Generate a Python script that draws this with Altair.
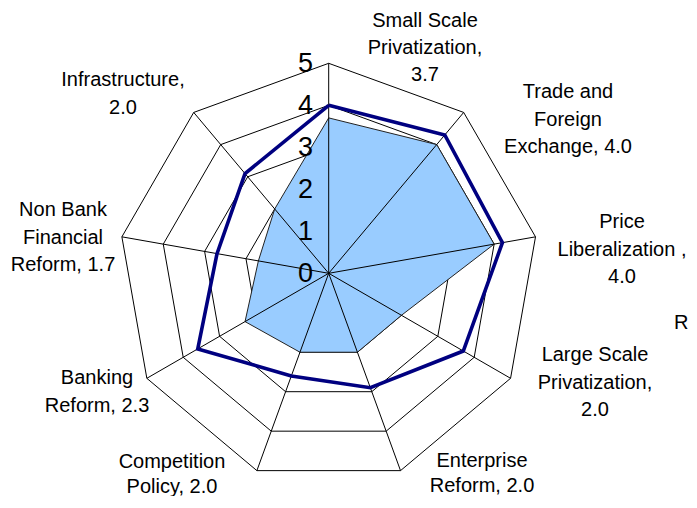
import math
import altair as alt
import pandas as pd

# ---------------- data ----------------
categories = [
    "Small Scale Privatization", "Trade and Foreign Exchange", "Price Liberalization",
    "Large Scale Privatization", "Enterprise Reform", "Competition Policy",
    "Banking Reform", "Non Bank Financial Reform", "Infrastructure",
]
country_values = [3.7, 4.0, 4.0, 2.0, 2.0, 2.0, 2.3, 1.7, 2.0]
comparison_values = [4.0, 4.3, 4.2, 3.7, 2.9, 2.6, 3.6, 2.7, 3.1]
grid_levels = [1, 2, 3, 4, 5]
tick_labels = ["0", "1", "2", "3", "4", "5"]
label_templates = [
    ["Small Scale", "Privatization,", "{v}"],
    ["Trade and", "Foreign", "Exchange, {v}"],
    ["Price", "Liberalization ,", "{v}"],
    ["Large Scale", "Privatization,", "{v}"],
    ["Enterprise", "Reform, {v}"],
    ["Competition", "Policy, {v}"],
    ["Banking", "Reform, {v}"],
    ["Non Bank", "Financial", "Reform, {v}"],
    ["Infrastructure,", "{v}"],
]

# ---------------- layout ----------------
W, H = 681, 488
U = 42.0            # pixels per score unit
CX, CY = 320.7, 265.3
XD = [-CX / U, (W - CX) / U]
YD = [-(H - CY) / U, CY / U]
FONT = "Liberation Sans"
# label block centres (page px) and line spacing
label_anchor_px = [(425, 21), (568, 92), (622, 222), (595, 355), (482, 461),
                   (172, 462), (97, 378), (63, 210), (123, 80)]
line_spacing = [27, 27.5, 27.5, 27.5, 25, 25, 27.5, 27.5, 27.5]
n = len(categories)
angles = [2 * math.pi * k / n for k in range(n)]


def px_to_data(px, py):
    return ((px - 8 - CX) / U, (CY - (py - 8)) / U)


xs = alt.Scale(domain=XD, nice=False, zero=False)
ys = alt.Scale(domain=YD, nice=False, zero=False)


def X(f):
    return alt.X(f, type="quantitative", scale=xs, axis=None)


def Y(f):
    return alt.Y(f, type="quantitative", scale=ys, axis=None)


# rings
ring_rows = []
for lv in grid_levels:
    for i in range(n + 1):
        a = angles[i % n]
        ring_rows.append({"level": lv, "i": i, "x": lv * math.sin(a), "y": lv * math.cos(a)})
rings = alt.Chart(pd.DataFrame(ring_rows)).mark_line(color="black", strokeWidth=1).encode(
    x=X("x"), y=Y("y"), detail="level:N", order="i:Q")

# spokes
rmax = max(grid_levels)
spoke_df = pd.DataFrame({
    "x0": [0.0] * n, "y0": [0.0] * n,
    "x1": [rmax * math.sin(a) for a in angles],
    "y1": [rmax * math.cos(a) for a in angles],
})
spokes = alt.Chart(spoke_df).mark_rule(color="black", strokeWidth=1).encode(
    x=X("x0"), y=Y("y0"), x2="x1", y2="y1")


def poly_df(vals):
    rows = []
    for i in range(n + 1):
        a = angles[i % n]
        v = vals[i % n]
        rows.append({"i": i, "x": v * math.sin(a), "y": v * math.cos(a)})
    return pd.DataFrame(rows)


fill_poly = alt.Chart(poly_df(country_values)).mark_line(
    fill="#99CCFF", stroke="#222222", strokeWidth=1, strokeJoin="miter").encode(
    x=X("x"), y=Y("y"), order="i:Q")

comp_line = alt.Chart(poly_df(comparison_values)).mark_line(
    color="#000080", strokeWidth=3.6, strokeJoin="miter").encode(
    x=X("x"), y=Y("y"), order="i:Q")

# radial tick labels
tick_df = pd.DataFrame({
    "t": tick_labels,
    "x": [px_to_data(313, 0)[0]] * len(tick_labels),
    "y": [float(t) for t in tick_labels],
})
ticks = alt.Chart(tick_df).mark_text(
    align="right", baseline="middle", font=FONT, fontSize=27, color="black", dy=1).encode(
    x=X("x"), y=Y("y"), text="t:N")

# category labels
lab_rows = []
for k in range(n):
    ax, ay = label_anchor_px[k]
    for j, tmpl in enumerate(label_templates[k]):
        lx, ly = px_to_data(ax, ay + j * line_spacing[k])
        lab_rows.append({"t": tmpl.format(v=f"{country_values[k]:.1f}"), "x": lx, "y": ly})
labels = alt.Chart(pd.DataFrame(lab_rows)).mark_text(
    align="center", baseline="middle", font=FONT, fontSize=20, color="black").encode(
    x=X("x"), y=Y("y"), text="t:N")

# partially visible label at the right edge
rx, ry = px_to_data(674, 323)
edge = alt.Chart(pd.DataFrame({"t": ["R"], "x": [rx], "y": [ry]})).mark_text(
    align="left", baseline="middle", font=FONT, fontSize=20, color="black").encode(
    x=X("x"), y=Y("y"), text="t:N")

chart = alt.layer(rings, fill_poly, spokes, comp_line, ticks, labels, edge).properties(
    width=W, height=H, padding=0, background="white",
    autosize=alt.AutoSizeParams(type="none"),
).configure_view(stroke=None)

chart.save("out.html", embed_options={"renderer": "svg", "actions": False})
